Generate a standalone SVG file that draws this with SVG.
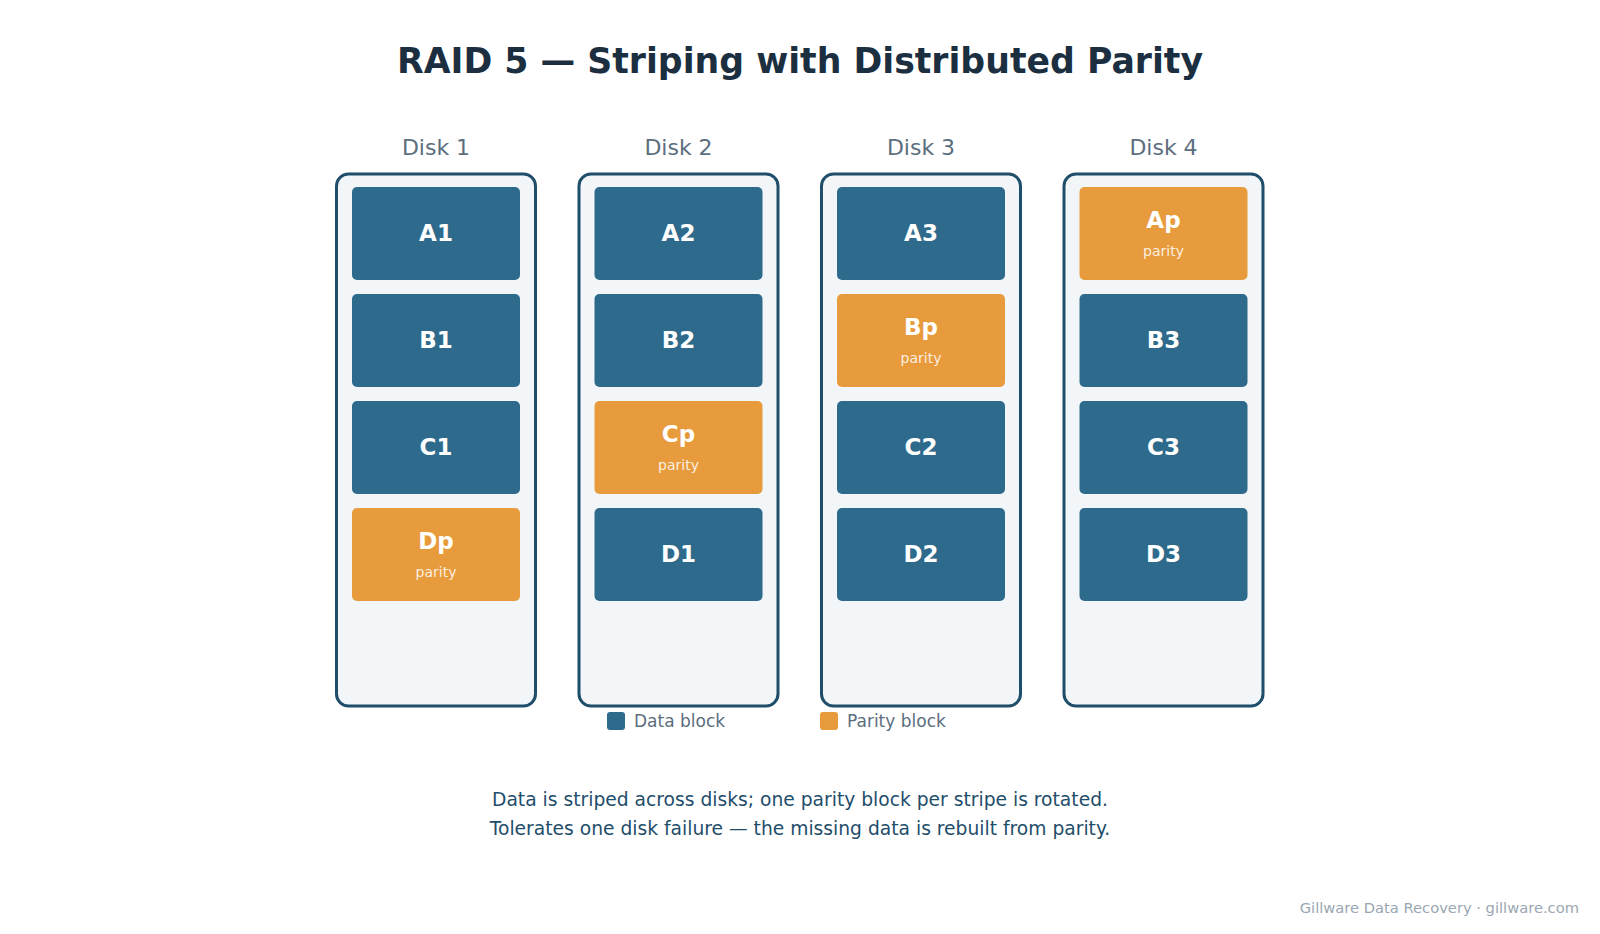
<svg xmlns="http://www.w3.org/2000/svg" width="1600" height="934" viewBox="0 0 1600 934">
<style>
text{font-family:"DejaVu Sans","Liberation Sans",sans-serif}
.title{font-size:34.7px;font-weight:bold;fill:#1c2f40;text-anchor:middle}
.disk-label{font-size:22px;fill:#5b6e7e;text-anchor:middle}
.disk{fill:#f2f6f9;stroke:#1f4e6b;stroke-width:3}
.data{fill:#2e6a8c}
.parity{fill:#e89b3c}
.blk{font-size:23px;font-weight:bold;fill:#ffffff;text-anchor:middle}
.sub{font-size:14px;fill:#ffffff;fill-opacity:0.85;text-anchor:middle}
.legend{font-size:17px;fill:#5b6e7e}
.note{font-size:18.7px;fill:#1f4e6b;text-anchor:middle}
.foot{font-size:14.7px;fill:#9aa7b3;text-anchor:end}
</style>
<rect width="1600" height="934" fill="#ffffff"/>
<text class="title" x="800" y="73">RAID 5 — Striping with Distributed Parity</text>

<g id="disk1">
<text class="disk-label" x="436" y="155">Disk 1</text>
<rect class="disk" x="336.5" y="174" width="199" height="532" rx="12"/>
<g id="A1"><rect class="data" x="352" y="187" width="168" height="93" rx="5"/><text class="blk" x="436" y="241">A1</text></g>
<g id="B1"><rect class="data" x="352" y="294" width="168" height="93" rx="5"/><text class="blk" x="436" y="348">B1</text></g>
<g id="C1"><rect class="data" x="352" y="401" width="168" height="93" rx="5"/><text class="blk" x="436" y="455">C1</text></g>
<g id="Dp1"><rect class="parity" x="352" y="508" width="168" height="93" rx="5"/><text class="blk" x="436" y="549">Dp</text><text class="sub" x="436" y="577">parity</text></g>
</g>

<g id="disk2">
<text class="disk-label" x="678.5" y="155">Disk 2</text>
<rect class="disk" x="579" y="174" width="199" height="532" rx="12"/>
<g id="A2"><rect class="data" x="594.5" y="187" width="168" height="93" rx="5"/><text class="blk" x="678.5" y="241">A2</text></g>
<g id="B2"><rect class="data" x="594.5" y="294" width="168" height="93" rx="5"/><text class="blk" x="678.5" y="348">B2</text></g>
<g id="Cp"><rect class="parity" x="594.5" y="401" width="168" height="93" rx="5"/><text class="blk" x="678.5" y="442">Cp</text><text class="sub" x="678.5" y="470">parity</text></g>
<g id="D1"><rect class="data" x="594.5" y="508" width="168" height="93" rx="5"/><text class="blk" x="678.5" y="562">D1</text></g>
</g>

<g id="disk3">
<text class="disk-label" x="921" y="155">Disk 3</text>
<rect class="disk" x="821.5" y="174" width="199" height="532" rx="12"/>
<g id="A3"><rect class="data" x="837" y="187" width="168" height="93" rx="5"/><text class="blk" x="921" y="241">A3</text></g>
<g id="Bp"><rect class="parity" x="837" y="294" width="168" height="93" rx="5"/><text class="blk" x="921" y="335">Bp</text><text class="sub" x="921" y="363">parity</text></g>
<g id="C2"><rect class="data" x="837" y="401" width="168" height="93" rx="5"/><text class="blk" x="921" y="455">C2</text></g>
<g id="D2"><rect class="data" x="837" y="508" width="168" height="93" rx="5"/><text class="blk" x="921" y="562">D2</text></g>
</g>

<g id="disk4">
<text class="disk-label" x="1163.5" y="155">Disk 4</text>
<rect class="disk" x="1064" y="174" width="199" height="532" rx="12"/>
<g id="Ap"><rect class="parity" x="1079.5" y="187" width="168" height="93" rx="5"/><text class="blk" x="1163.5" y="228">Ap</text><text class="sub" x="1163.5" y="256">parity</text></g>
<g id="B3"><rect class="data" x="1079.5" y="294" width="168" height="93" rx="5"/><text class="blk" x="1163.5" y="348">B3</text></g>
<g id="C3"><rect class="data" x="1079.5" y="401" width="168" height="93" rx="5"/><text class="blk" x="1163.5" y="455">C3</text></g>
<g id="D3"><rect class="data" x="1079.5" y="508" width="168" height="93" rx="5"/><text class="blk" x="1163.5" y="562">D3</text></g>
</g>

<g id="connectors"></g>

<g id="legend">
<rect class="data" x="607" y="712" width="18" height="18" rx="3"/>
<text class="legend" x="634" y="727">Data block</text>
<rect class="parity" x="820" y="712" width="18" height="18" rx="3"/>
<text class="legend" x="847" y="727">Parity block</text>
</g>

<text class="note" x="800" y="806">Data is striped across disks; one parity block per stripe is rotated.</text>
<text class="note" x="800" y="835">Tolerates one disk failure — the missing data is rebuilt from parity.</text>
<text class="foot" x="1579" y="913">Gillware Data Recovery · gillware.com</text>
</svg>
